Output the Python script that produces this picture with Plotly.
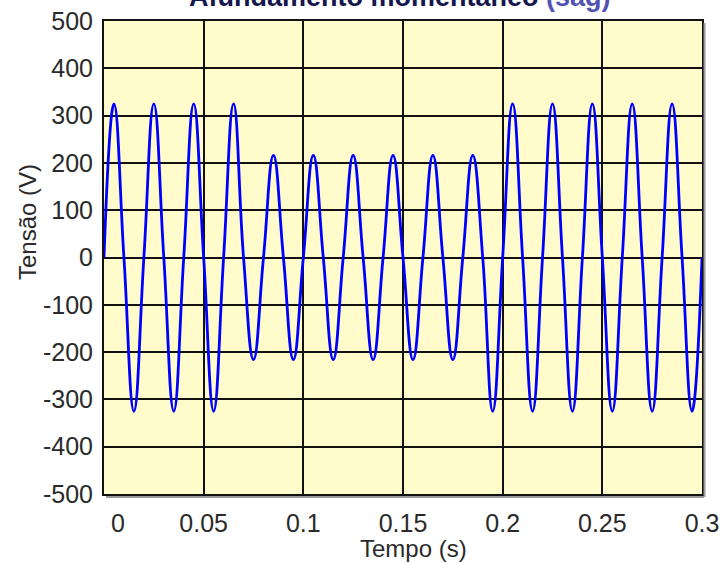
import plotly.graph_objects as go

# ---- data ----
title_main = "Afundamento momentâneo"
title_tag = "(sag)"
x_title = "Tempo (s)"
y_title = "Tensão (V)"

half_period_s = 0.01  # zero crossings every 10 ms (50 Hz)
# peak value of each half cycle (V)
half_cycle_peaks_V = [
    325, -325, 325, -325, 325, -325, 325,
    -216, 216, -216, 216, -216, 216, -216, 216, -216, 216, -216, 216,
    -325, 325, -325, 325, -325, 325, -325, 325, -325, 325, -325,
]

x_tickvals = [0, 0.05, 0.1, 0.15, 0.2, 0.25, 0.3]
x_ticktext = ["\u00a0\u00a0\u00a0\u00a00", "0.05", "0.1", "0.15", "0.2", "0.25", "0.3"]
y_tickvals = [-500, -400, -300, -200, -100, 0, 100, 200, 300, 400, 500]
y_ticktext = ["-500", "-400", "-300", "-200", "-100", "0", "100", "200", "300", "400", "500"]

# build the point list: zero crossing, then peak, per half cycle
t_pts, v_pts = [], []
for i, pk in enumerate(half_cycle_peaks_V):
    t0 = i * half_period_s
    t_pts += [t0, t0 + half_period_s / 2]
    v_pts += [0, pk]
t_pts.append(len(half_cycle_peaks_V) * half_period_s)
v_pts.append(0)

W, H = 724, 563
L, R, T, B = 104, 22, 21, 69
ph = H - T - B

fig = go.Figure()
fig.add_trace(go.Scatter(
    x=t_pts, y=v_pts, mode="lines",
    line=dict(color="#0000FF", width=2.8, shape="spline", smoothing=1.3),
    showlegend=False, hoverinfo="skip",
))

font_family = "Liberation Sans, Arial, sans-serif"
fig.update_layout(
    width=W, height=H,
    margin=dict(l=L, r=R, t=T, b=B, autoexpand=False),
    paper_bgcolor="white",
    plot_bgcolor="#FFFBCB",
    font=dict(family=font_family, color="#2a2a2a", size=25),
    xaxis=dict(
        range=[0, 0.3], tickvals=x_tickvals, ticktext=x_ticktext,
        showgrid=True, gridcolor="#111111", gridwidth=1.6,
        showline=True, linecolor="#111111", linewidth=2, mirror=True,
        zeroline=False, ticks="", ticklabelstandoff=6, automargin=False,
        tickfont=dict(size=25, color="#2a2a2a"),
    ),
    yaxis=dict(
        range=[-500, 500], tickvals=y_tickvals, ticktext=y_ticktext,
        showgrid=True, gridcolor="#111111", gridwidth=1.6,
        showline=True, linecolor="#111111", linewidth=2, mirror=True,
        zeroline=False, ticks="", ticklabelstandoff=4, automargin=False,
        tickfont=dict(size=25, color="#2a2a2a"),
    ),
)

def py(pix):
    return (H - B - pix) / ph

def px(pix):
    return (pix - L) / (W - L - R)

fig.add_annotation(
    text=f"<b>{title_main} <span style='color:#5252b4'>{title_tag}</span></b>",
    x=px(400), y=py(-3), xref="paper", yref="paper",
    xanchor="center", yanchor="middle", showarrow=False,
    font=dict(size=27, color="#16164e", family=font_family),
)
fig.add_annotation(
    text=x_title, x=px(413), y=py(548), xref="paper", yref="paper",
    xanchor="center", yanchor="middle", showarrow=False,
    font=dict(size=24, color="#2a2a2a", family=font_family),
)
fig.add_annotation(
    text=y_title, x=px(27), y=py(222), xref="paper", yref="paper",
    xanchor="center", yanchor="middle", showarrow=False, textangle=-90,
    font=dict(size=24, color="#2a2a2a", family=font_family),
)
# subtle shadow under the bottom and right frame edges
fig.add_shape(type="line", xref="paper", yref="paper",
              x0=px(106), x1=px(704), y0=py(497), y1=py(497),
              line=dict(color="#9a9a9a", width=2))
fig.add_shape(type="line", xref="paper", yref="paper",
              x0=px(704.5), x1=px(704.5), y0=py(23), y1=py(497),
              line=dict(color="#9a9a9a", width=2))

fig.write_html(
    "out.html",
    config={"displayModeBar": False},
    post_script="document.body.style.margin='0px';document.body.style.overflow='hidden';",
)
